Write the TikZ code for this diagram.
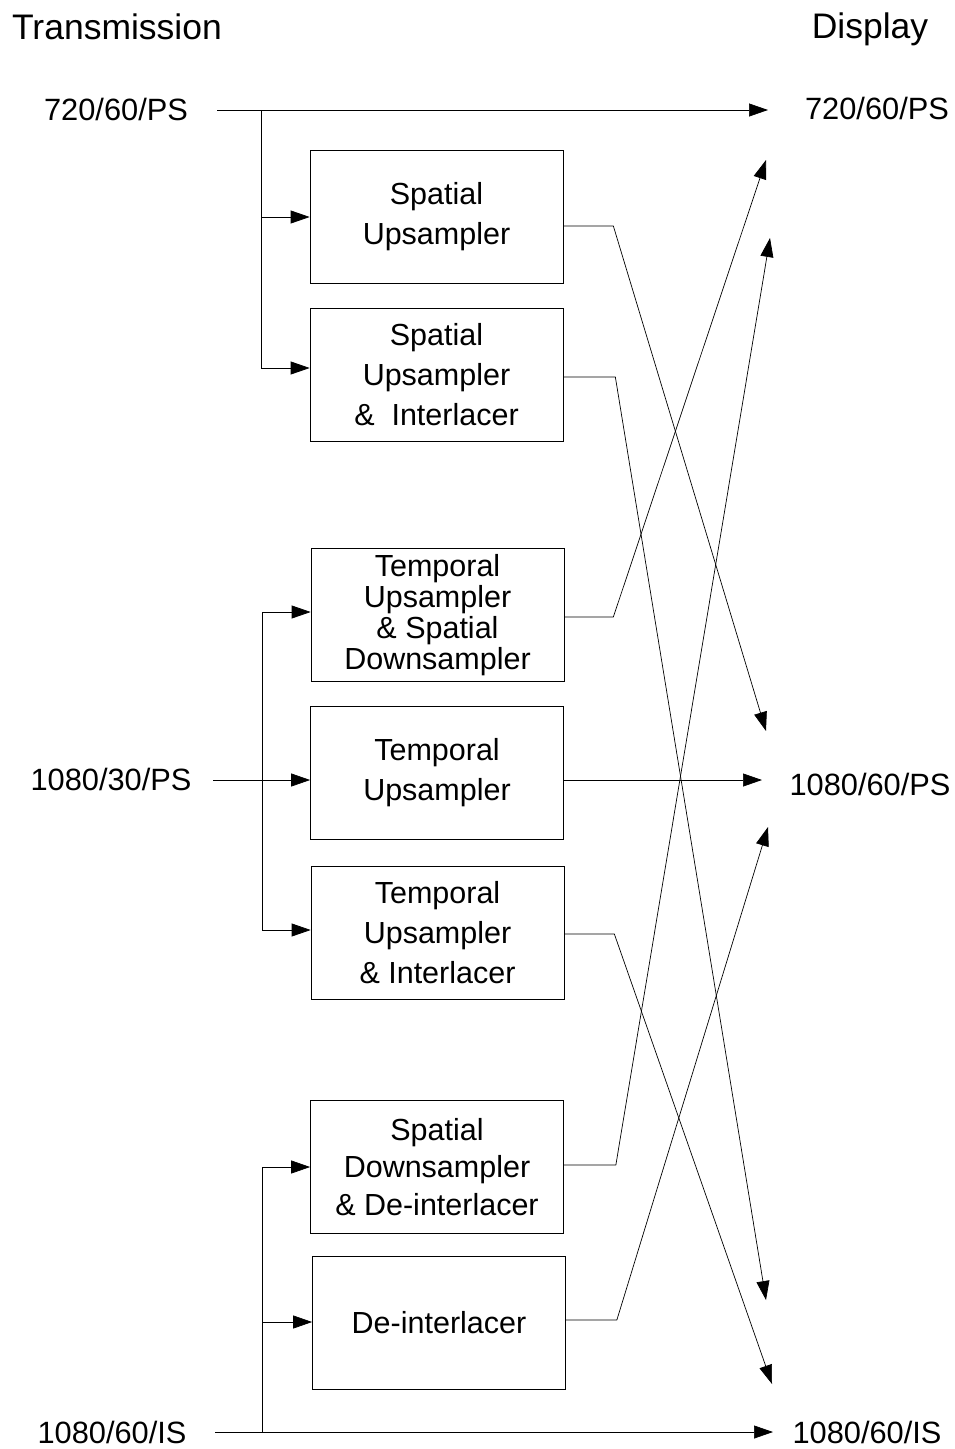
\documentclass[tikz,border=0pt]{standalone}
\usepackage{fontspec}
\setmainfont{Liberation Sans}
\usetikzlibrary{arrows.meta}
\begin{document}
\begin{tikzpicture}[x=1pt,y=-1pt,
  box/.style={draw, line width=0.7pt, minimum width=253pt, minimum height=133pt,
              inner sep=0pt, align=center, font=\fontsize{30.5}{40}\selectfont},
  lbl/.style={font=\fontsize{30.8}{36}\selectfont, anchor=base, inner sep=0pt},
  head/.style={font=\fontsize{35.5}{40}\selectfont, anchor=base, inner sep=0pt},
  wire/.style={line width=0.7pt},
  flow/.style={wire, -{Triangle[length=19pt,width=13pt]}},
]
\useasboundingbox (0,0) rectangle (955,1449);

% column headings
\node[head] (thead) at (117,39) {Transmission};
\node[head] (dhead) at (870,38) {Display};

% formats
\node[lbl] (in720)    at (116,120)  {720/60/PS};
\node[lbl] (in1080p)  at (111,790)  {1080/30/PS};
\node[lbl] (in1080i)  at (112,1443) {1080/60/IS};
\node[lbl] (out720)   at (877,119)  {720/60/PS};
\node[lbl] (out1080p) at (870,795)  {1080/60/PS};
\node[lbl] (out1080i) at (867,1443) {1080/60/IS};

% converters
\node[box] (b1) at (436.5,217) {Spatial\\Upsampler};
\node[box] (b2) at (436.5,375) {Spatial\\Upsampler\\\& \ Interlacer};
\node[box, font=\fontsize{30.5}{31}\selectfont] (b3) at (437.5,615)
  {Temporal\\Upsampler\\\& Spatial\\Downsampler};
\node[box] (b4) at (437,772.5) {Temporal\\Upsampler};
\node[box] (b5) at (437.5,932.5) {Temporal\\Upsampler\\\& Interlacer};
\node[box, font=\fontsize{30.5}{37.5}\selectfont] (b6) at (437,1167)
  {Spatial\\Downsampler\\\& De-interlacer};
\node[box] (b7) at (439,1322.5) {De-interlacer};

% line starts and junctions
\coordinate (s720)   at (217,110);
\coordinate (j720)   at (261,110);
\coordinate (s1080p) at (213,780);
\coordinate (j1080p) at (262,780);
\coordinate (s1080i) at (215,1432);
\coordinate (j1080i) at (262,1432);

% arrow tips on the display side
\coordinate (t720a)   at (768,110);
\coordinate (t720b)   at (766,160);
\coordinate (t720c)   at (770,238);
\coordinate (t1080pA) at (766,731);
\coordinate (t1080pB) at (762,780);
\coordinate (t1080pC) at (768,827);
\coordinate (t1080iA) at (766,1300);
\coordinate (t1080iB) at (772,1384);
\coordinate (t1080iC) at (773,1432);

% 720/60/PS input
\draw[flow] (s720) -- (t720a);
\draw[flow] (j720) |- (b1.west);
\draw[flow] (j720) |- ([yshift=7pt]b2.west);

% 1080/30/PS input
\draw[flow] (s1080p) -- ([yshift=-7.5pt]b4.west);
\draw[flow] (j1080p) |- ([yshift=3pt]b3.west);
\draw[flow] (j1080p) |- ([yshift=2.5pt]b5.west);

% 1080/60/IS input
\draw[flow] (s1080i) -- (t1080iC);
\draw[flow] (j1080i) |- (b6.west);
\draw[flow] (j1080i) |- ([yshift=0.5pt]b7.west);

% converter outputs
\draw[flow] ([yshift=-9pt]b1.east) -- ++(50,0) -- (t1080pA);
\draw[flow] ([yshift=-2pt]b2.east) -- ++(52,0) -- (t1080iA);
\draw[flow] ([yshift=-2pt]b3.east) -- ++(49,0) -- (t720b);
\draw[flow] ([yshift=-7.5pt]b4.east) -- (t1080pB);
\draw[flow] ([yshift=-1.5pt]b5.east) -- ++(50,0) -- (t1080iB);
\draw[flow] ([yshift=2pt]b6.east) -- ++(52,0) -- (t720c);
\draw[flow] ([yshift=2.5pt]b7.east) -- ++(51,0) -- (t1080pC);
\end{tikzpicture}
\end{document}
